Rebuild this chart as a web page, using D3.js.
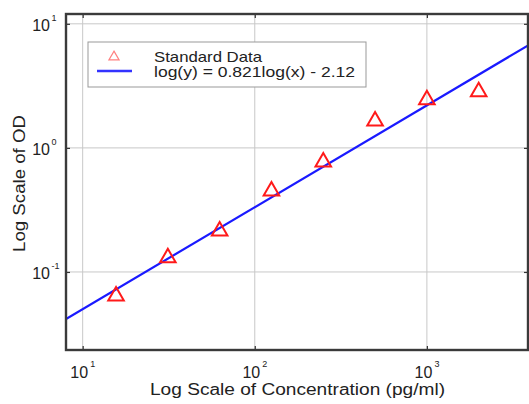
<!DOCTYPE html>
<html>
<head>
<meta charset="utf-8">
<script src="https://cdn.jsdelivr.net/npm/d3@7"></script>
<style>
  body { margin: 0; background: #fff; }
  text { font-family: "Liberation Sans", Arial, sans-serif; fill: #222; }
</style>
</head>
<body>
<div id="chart"></div>
<script>
// Standard data (concentration in pg/ml, OD)
const concentration = [15.625, 31.25, 62.5, 125, 250, 500, 1000, 2000];
const od = [0.064, 0.13, 0.214, 0.45, 0.77, 1.65, 2.44, 2.83];

// fit: log(y) = slope*log(x) + intercept
const slope = 0.821;
const intercept = -2.12;

const xTicks = [10, 100, 1000];
const yTicks = [0.1, 1, 10];
const legendLabels = ["Standard Data", "log(y) = 0.821log(x) - 2.12"];

const width = 529;
const height = 404;
const plotLeft = 66, plotRight = 528, plotTop = 14, plotBottom = 350;

const svg = d3.select("#chart")
              .append("svg")
              .attr("width", width)
              .attr("height", height);

const x = d3.scaleLog().domain([8, 4000]).range([plotLeft, plotRight + 2.5]);
const y = d3.scaleLog().domain([0.0235, 12]).range([plotBottom, plotTop]);

// grid lines
svg.selectAll(".gx")
   .data(xTicks)
   .enter()
   .append("line")
   .attr("x1", d => x(d)).attr("x2", d => x(d))
   .attr("y1", plotTop).attr("y2", plotBottom)
   .attr("stroke", "#c8c8c8").attr("stroke-width", 1);

svg.selectAll(".gy")
   .data(yTicks)
   .enter()
   .append("line")
   .attr("x1", plotLeft).attr("x2", plotRight)
   .attr("y1", d => y(d)).attr("y2", d => y(d))
   .attr("stroke", "#c8c8c8").attr("stroke-width", 1);

// fitted line
const fit = x.domain().map(v => [v, Math.pow(10, slope * Math.log10(v) + intercept)]);
svg.append("clipPath").attr("id", "clip")
   .append("rect").attr("x", plotLeft).attr("y", plotTop)
   .attr("width", plotRight - plotLeft).attr("height", plotBottom - plotTop);

svg.append("path")
   .datum(fit)
   .attr("clip-path", "url(#clip)")
   .attr("d", d3.line().x(d => x(d[0])).y(d => y(d[1])))
   .attr("stroke", "#1a1aff")
   .attr("stroke-width", 2.2)
   .attr("fill", "none");

// data triangles
const tri = d3.symbol().type(d3.symbolTriangle).size(105);
svg.selectAll(".pt")
   .data(concentration)
   .enter()
   .append("path")
   .attr("d", tri)
   .attr("transform", (d, i) => `translate(${x(d)},${y(od[i])})`)
   .attr("fill", "none")
   .attr("stroke", "#ff1a1a")
   .attr("stroke-width", 2);

// axes (ticks inward on all four sides)
svg.append("g")
   .attr("transform", `translate(0,${plotBottom})`)
   .call(d3.axisTop(x).tickValues(xTicks).tickSize(4).tickFormat(""));
svg.append("g")
   .attr("transform", `translate(0,${plotTop})`)
   .call(d3.axisBottom(x).tickValues(xTicks).tickSize(4).tickFormat(""));
svg.append("g")
   .attr("transform", `translate(${plotLeft},0)`)
   .call(d3.axisRight(y).tickValues(yTicks).tickSize(4).tickFormat(""));
svg.append("g")
   .attr("transform", `translate(${plotRight},0)`)
   .call(d3.axisLeft(y).tickValues(yTicks).tickSize(4).tickFormat(""));
svg.selectAll(".domain").remove();
svg.selectAll(".tick line").attr("stroke", "#333").attr("stroke-width", 1.2);

// frame
svg.append("rect")
   .attr("x", plotLeft).attr("y", plotTop)
   .attr("width", plotRight - plotLeft).attr("height", plotBottom - plotTop)
   .attr("fill", "none")
   .attr("stroke", "#3a3a3a")
   .attr("stroke-width", 2.4);

// tick labels 10^n
function expLabel(g, px, py, anchorRight, e) {
  const t = g.append("text").attr("font-size", 16);
  if (anchorRight) {
    t.attr("x", px).attr("y", py).attr("text-anchor", "end").text("10");
    g.append("text").attr("x", px + 1.5).attr("y", py - 10)
     .attr("font-size", 9).text(e);
  } else {
    t.attr("x", px).attr("y", py).attr("text-anchor", "middle").text("10");
    g.append("text").attr("x", px + 11).attr("y", py - 11)
     .attr("font-size", 9).text(e);
  }
}
const lab = svg.append("g");
xTicks.forEach(d => expLabel(lab, x(d) - 3.5, 378, false, Math.round(Math.log10(d))));
yTicks.forEach(d => expLabel(lab, 50, y(d) + 7, true, Math.round(Math.log10(d))));

// axis titles
svg.append("text")
   .attr("x", 150).attr("y", 395)
   .attr("font-size", 16)
   .attr("textLength", 295)
   .attr("lengthAdjust", "spacingAndGlyphs")
   .text("Log Scale of Concentration (pg/ml)");

svg.append("text")
   .attr("transform", "translate(25,252) rotate(-90)")
   .attr("font-size", 16)
   .attr("textLength", 137)
   .attr("lengthAdjust", "spacingAndGlyphs")
   .text("Log Scale of OD");

// legend
const lg = svg.append("g");
lg.append("rect")
  .attr("x", 88).attr("y", 42).attr("width", 278).attr("height", 45)
  .attr("fill", "#fff").attr("stroke", "#999").attr("stroke-width", 1);
lg.append("path")
  .attr("d", d3.symbol().type(d3.symbolTriangle).size(45))
  .attr("transform", "translate(114,57)")
  .attr("fill", "none").attr("stroke", "#ff8080").attr("stroke-width", 1.2);
lg.append("line")
  .attr("x1", 97).attr("x2", 132).attr("y1", 71).attr("y2", 71)
  .attr("stroke", "#3333ff").attr("stroke-width", 2.4);
const legendWidths = [108, 201];
lg.selectAll(".lt")
  .data(legendLabels)
  .enter()
  .append("text")
  .attr("x", 154)
  .attr("y", (d, i) => 62 + i * 14.5)
  .attr("font-size", 14.5)
  .attr("textLength", (d, i) => legendWidths[i])
  .attr("lengthAdjust", "spacingAndGlyphs")
  .text(d => d);
</script>
</body>
</html>
